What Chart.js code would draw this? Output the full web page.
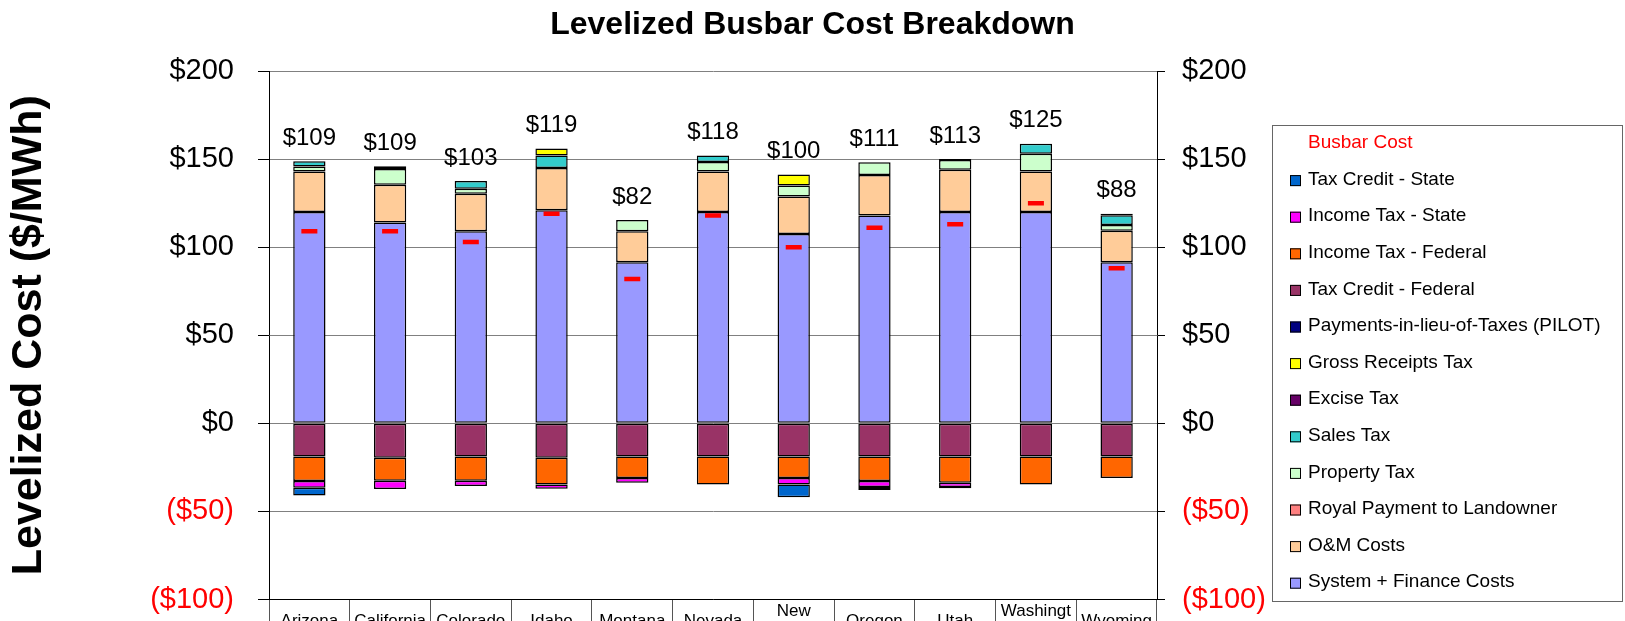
<!DOCTYPE html>
<html>
<head>
<meta charset="utf-8">
<script src="https://cdn.jsdelivr.net/npm/chart.js@4.4.1/dist/chart.umd.min.js"></script>
<style>
  html, body { margin: 0; padding: 0; background: #fff; overflow: hidden; }
  #wrap { width: 1625px; height: 621px; position: relative; }
</style>
</head>
<body>
<div id="wrap"><canvas id="myChart"></canvas></div>
<script>
// categories (cells are narrow, so long names wrap like in the original)
const states = ["Arizona", "California", "Colorado", "Idaho", "Montana", "Nevada",
  ["New", "Mexico"], "Oregon", "Utah", ["Washingt", "on"], "Wyoming"];

// positive components ($/MWh)
const systemFinance = [120, 114, 109, 121, 91.5, 120, 107.5, 118, 120, 120, 91.5];
const omCosts       = [23, 21.5, 21.3, 24, 17.5, 23, 21.3, 23, 24, 23, 17.8];
const royalPayment  = [null, null, null, null, null, null, null, null, null, null, null];
const propertyTax   = [2.8, 8.9, 2.8, null, 6.4, 5.3, 6.2, 7.2, 5.5, 10, 3.3];
const salesTax      = [2.9, 1.6, 4.5, 7, null, 3.8, null, null, null, 5.7, 5.5];
const exciseTax     = [null, null, null, null, null, null, null, null, 0.6, null, 0.8];
const grossReceipts = [null, null, null, 4, null, null, 6.2, null, null, null, null];
const pilot         = [null, null, null, null, null, null, null, null, null, null, null];

// negative components
const taxCreditFed   = [-18.8, -19.6, -18.8, -19.6, -18.8, -18.8, -18.8, -18.8, -18.8, -18.8, -18.8];
const incomeTaxFed   = [-14, -13, -13.8, -15.1, -12.3, -15.9, -12.3, -14, -14.9, -15.9, -12.3];
const incomeTaxState = [-3.7, -4.7, -3, -2.4, -2.6, null, -3.6, -3.4, -2.5, null, null];
const taxCreditState = [-4.5, null, null, null, null, null, -7.2, -1.7, -0.6, null, null];

// net busbar cost
const busbar = [109, 109, 103, 119, 82, 118, 100, 111, 113, 125, 88];

const yTicks = [-100, -50, 0, 50, 100, 150, 200];

const FONT = "'Liberation Sans', Arial, sans-serif";
Chart.defaults.font.family = FONT;
Chart.defaults.color = "#000";

function money(v) {
  return v < 0 ? "($" + (-v) + ")" : "$" + v;
}

function barSet(label, data, color) {
  return {
    type: "bar",
    label: label,
    data: data,
    backgroundColor: color,
    borderColor: "#000",
    borderWidth: 1.5,
    borderSkipped: false,
    stack: "cost",
    barPercentage: 0.4,
    categoryPercentage: 1.0
  };
}

// y axes: keep the plot area where the original has it
function fixY(width) {
  return function (scale) {
    scale.width = width;
    scale.paddingTop = 0;
    scale.paddingBottom = 0;
  };
}

// $ labels above every stack
const topLabels = {
  id: "topLabels",
  afterDatasetsDraw(chart) {
    const ctx = chart.ctx;
    const x = chart.scales.x, y = chart.scales.y;
    ctx.save();
    ctx.font = "24px " + FONT;
    ctx.fillStyle = "#000";
    ctx.textAlign = "center";
    ctx.textBaseline = "middle";
    busbar.forEach((b, i) => {
      let top = 0;
      chart.data.datasets.forEach(ds => {
        if (ds.type === "bar" && ds.data[i] > 0) top += ds.data[i];
      });
      ctx.fillText("$" + b, x.getPixelForValue(i), y.getPixelForValue(top) - 23);
    });
    ctx.restore();
  }
};

// boxed legend on the right, reversed like the original
const boxLegend = {
  id: "boxLegend",
  afterDraw(chart) {
    const ctx = chart.ctx;
    const left = 1272, top = 125, right = 1623, bottom = 601;
    ctx.save();
    ctx.strokeStyle = "#666";
    ctx.lineWidth = 1;
    ctx.strokeRect(left + 0.5, top + 0.5, right - left - 1, bottom - top);
    ctx.font = "19px " + FONT;
    ctx.textBaseline = "middle";
    const items = chart.data.datasets.slice().reverse();
    items.forEach((ds, k) => {
      const cy = 143 + k * 36.6;
      if (ds.type === "line") {
        ctx.fillStyle = "#ff0000";
        ctx.fillText(ds.label, 1308, cy);
        return;
      }
      ctx.fillStyle = ds.backgroundColor;
      ctx.fillRect(1290, cy - 4.5, 11, 11);
      ctx.strokeStyle = "#000";
      ctx.strokeRect(1290.5, cy - 4, 10, 10);
      ctx.fillStyle = "#000";
      ctx.fillText(ds.label, 1308, cy);
    });
    ctx.restore();
  }
};

new Chart("myChart", {
  data: {
    labels: states,
    datasets: [
      barSet("System + Finance Costs", systemFinance, "#9999FF"),
      barSet("O&M Costs", omCosts, "#FFCC99"),
      barSet("Royal Payment to Landowner", royalPayment, "#FF8080"),
      barSet("Property Tax", propertyTax, "#CCFFCC"),
      barSet("Sales Tax", salesTax, "#33CCCC"),
      barSet("Excise Tax", exciseTax, "#660066"),
      barSet("Gross Receipts Tax", grossReceipts, "#FFFF00"),
      barSet("Payments-in-lieu-of-Taxes (PILOT)", pilot, "#000080"),
      barSet("Tax Credit - Federal", taxCreditFed, "#993366"),
      barSet("Income Tax - Federal", incomeTaxFed, "#FF6600"),
      barSet("Income Tax - State", incomeTaxState, "#FF00FF"),
      barSet("Tax Credit - State", taxCreditState, "#0066CC"),
      {
        type: "line",
        label: "Busbar Cost",
        data: busbar,
        stack: "busbar",
        order: -1,
        showLine: false,
        pointStyle: "line",
        pointRadius: 8,
        pointBorderWidth: 4.5,
        borderColor: "#FF0000",
        backgroundColor: "#FF0000"
      }
    ]
  },
  options: {
    responsive: true,
    maintainAspectRatio: false,
    animation: false,
    events: [],
    layout: { padding: 0 },
    plugins: {
      legend: { display: false },
      tooltip: { enabled: false },
      title: {
        display: true,
        text: "Levelized Busbar Cost Breakdown",
        color: "#000",
        font: { size: 32, weight: "bold" },
        padding: { top: 6, bottom: 26.6 }
      }
    },
    scales: {
      x: {
        stacked: true,
        offset: true,
        grid: {
          offset: true,
          drawOnChartArea: false,
          tickLength: 25,
          color: "#555",
          tickColor: "#555"
        },
        border: { color: "#000", width: 1 },
        ticks: {
          autoSkip: false,
          maxRotation: 0,
          minRotation: 0,
          crossAlign: "center",
          padding: -13,
          color: "#000",
          font: { size: 17 }
        },
        afterFit(scale) { scale.height = 21.5; }
      },
      y: {
        stacked: true,
        position: "left",
        min: -100,
        max: 200,
        afterBuildTicks(scale) { scale.ticks = yTicks.map(v => ({ value: v })); },
        ticks: {
          padding: 24,
          font: { size: 29 },
          color: c => c.tick.value < 0 ? "#FF0000" : "#000",
          callback: v => money(v)
        },
        grid: { color: "#808080", tickColor: "#000", tickLength: 11, lineWidth: 1 },
        border: { color: "#000", width: 1 },
        title: {
          display: true,
          text: "Levelized Cost ($/MWh)",
          color: "#000",
          font: { size: 43, weight: "bold" },
          padding: { top: 3, bottom: 0 }
        },
        afterFit: fixY(269)
      },
      y2: {
        position: "right",
        min: -100,
        max: 200,
        afterBuildTicks(scale) { scale.ticks = yTicks.map(v => ({ value: v })); },
        ticks: {
          padding: 17,
          font: { size: 29 },
          color: c => c.tick.value < 0 ? "#FF0000" : "#000",
          callback: v => money(v)
        },
        grid: { drawOnChartArea: false, tickColor: "#000", tickLength: 8 },
        border: { color: "#000", width: 1 },
        afterFit: fixY(468)
      }
    }
  },
  plugins: [topLabels, boxLegend]
});
</script>
</body>
</html>
